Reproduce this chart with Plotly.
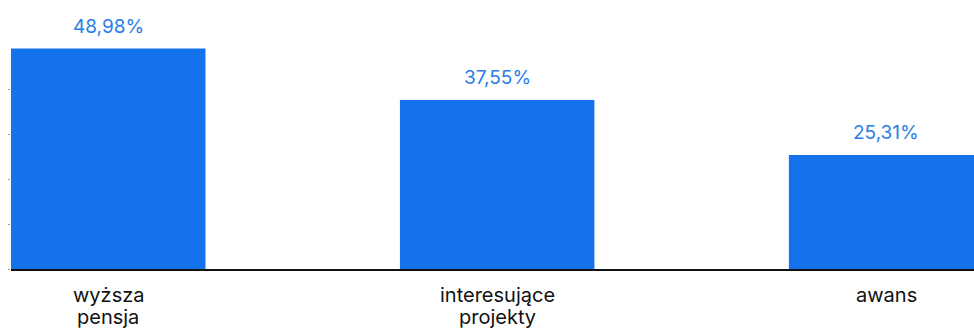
import plotly.graph_objects as go

categories = ["wyższa pensja", "interesujące projekty", "awans"]
label_line1 = ["wyższa", "interesujące", "awans"]
label_line2 = ["pensja", "projekty", ""]
values = [48.98, 37.55, 25.31]
value_labels = ["48,98%", "37,55%", "25,31%"]

bar_color = "#1473EA"
label_color = "#2A7DE9"
font_family = "Inter"

fig = go.Figure()
fig.add_trace(go.Bar(
    x=categories, y=values, width=0.5,
    marker=dict(color=bar_color, line=dict(width=0)),
    hoverinfo="skip",
))

for c, v, t in zip(categories, values, value_labels):
    fig.add_annotation(x=c, y=v, text=t, showarrow=False, yanchor="bottom",
                       yshift=9, font=dict(family=font_family, size=19, color=label_color))

cat_font = dict(family=font_family, size=20, color="#111111")
for c, l1, l2 in zip(categories, label_line1, label_line2):
    fig.add_annotation(x=c, y=0, text=l1, showarrow=False, yanchor="top",
                       yshift=-12, font=cat_font)
    if l2:
        fig.add_annotation(x=c, y=0, text=l2, showarrow=False, yanchor="top",
                           yshift=-34, font=cat_font)

fig.update_layout(
    width=974, height=331,
    margin=dict(l=11, r=0, t=45, b=62),
    paper_bgcolor="white", plot_bgcolor="white",
    showlegend=False,
    font=dict(family=font_family, size=20, color="#111111"),
)
fig.update_xaxes(
    range=[-0.25, 2.226], showline=True, linecolor="#111111", linewidth=2,
    showgrid=False, zeroline=False, ticks="", showticklabels=False,
)
fig.update_yaxes(
    range=[0, 224 / 4.5], showgrid=False, zeroline=False, showline=False,
    showticklabels=False, ticks="outside", ticklen=2, tickcolor="#999999",
    dtick=10, tick0=0,
)

fig.write_html("out.html")
